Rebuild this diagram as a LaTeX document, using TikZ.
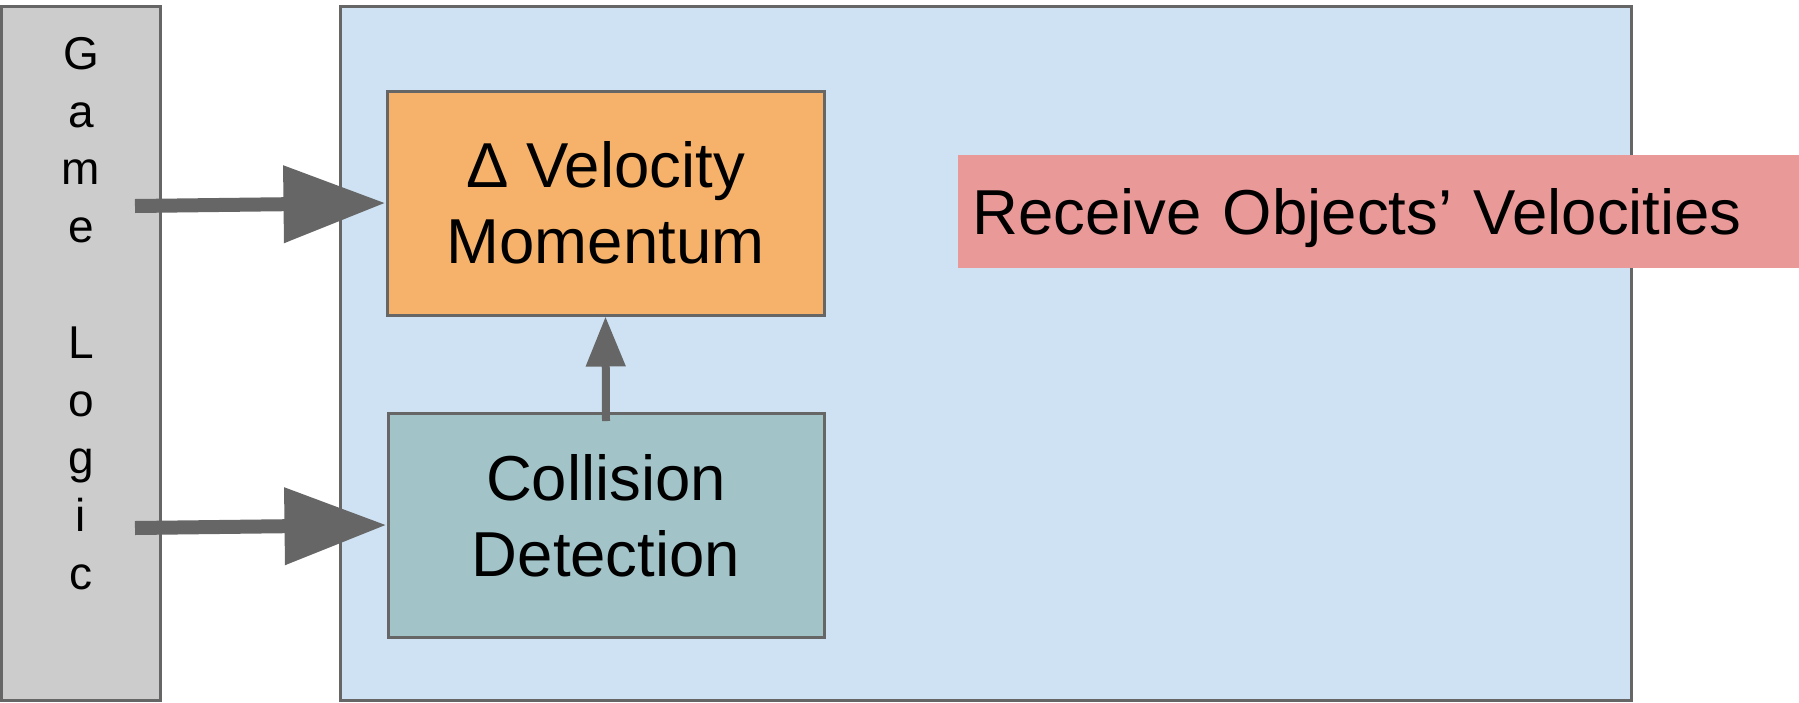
\documentclass[tikz,border=0pt]{standalone}
\usepackage{fontspec}
\setmainfont{Liberation Sans}
\usetikzlibrary{arrows.meta}

\definecolor{edgegray}{HTML}{666666}
\definecolor{logicfill}{HTML}{CCCCCC}
\definecolor{stagefill}{HTML}{CFE2F3}
\definecolor{velfill}{HTML}{F6B26B}
\definecolor{colfill}{HTML}{A2C4C9}
\definecolor{notefill}{HTML}{EA9999}

\newcommand\boxfont{\fontsize{31.75}{38}\selectfont}
\newcommand\logicfont{\fontsize{23}{28.9}\selectfont}

\begin{document}
\begin{tikzpicture}[x=0.5pt,y=-0.5pt,
  panel/.style={rectangle, draw=edgegray, line width=1.5pt, inner sep=0pt},
  label text/.style={font=\boxfont, align=center, inner sep=0pt},
  feed/.style={draw=edgegray, line width=7pt, -{Triangle[length=51pt,width=37pt]}},
  lift/.style={draw=edgegray, line width=4pt, -{Triangle[length=25pt,width=19pt]}}]

\useasboundingbox (0,0) rectangle (1799,702);

% outer blocks
\node[panel, fill=logicfill, minimum width=79.5pt, minimum height=347pt] (logic) at (80.5,353) {};
\node[font=\logicfont, align=center, inner sep=0pt] (logictext) at (81,313.5)
  {G\\a\\m\\e\\[28.9pt]L\\o\\g\\i\\c};
\node[panel, fill=stagefill, minimum width=645.5pt, minimum height=347pt] (stage) at (985.5,353) {};

% inner stages
\node[panel, fill=velfill, minimum width=218.5pt, minimum height=112pt, label text] (vel) at (605.5,203)
  {Δ Velocity\\Momentum};
\node[panel, fill=colfill, minimum width=218pt, minimum height=112pt] (col) at (606,525) {};
\node[label text] (coltext) at (606,516) {Collision\\Detection};

% note banner
\node[fill=notefill, anchor=west, minimum height=56.5pt, text width=406.5pt, inner xsep=7pt, inner ysep=0pt,
  text depth=0pt, font=\boxfont, align=left] (note) at (958,211.5) {Receive Objects’ Velocities};

% connectors
\coordinate (in1) at (135,206);
\coordinate (in2) at (135,528);
\coordinate (up) at (606,421);
\draw[feed] (in1) -- (vel.west);
\draw[feed] (in2) -- (col.west);
\draw[lift] (up) -- (vel.south);
\end{tikzpicture}
\end{document}
